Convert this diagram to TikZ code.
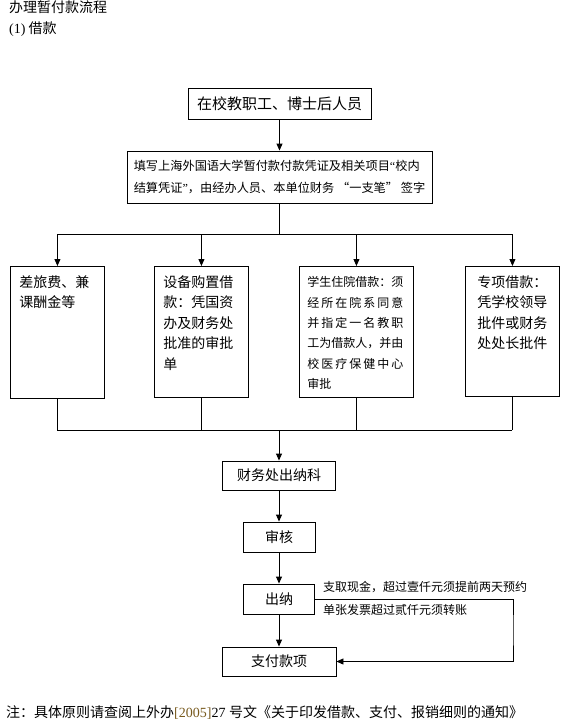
\documentclass[tikz,border=0pt]{standalone}
\usepackage{fontspec}
\setmainfont{Noto Sans CJK SC}
\newfontfamily\tnr{Liberation Serif}
\usetikzlibrary{arrows.meta}
\definecolor{refno}{RGB}{120,90,30}
\tikzset{
  box/.style={draw, line width=0.9pt, inner sep=0pt},
  arr/.style={line width=0.9pt, -{Triangle[length=7pt,width=6pt]}},
  conn/.style={line width=0.9pt},
  txt/.style={inner sep=0pt, anchor=west}
}
\newcommand\fs[2]{\fontsize{#1}{#2}\selectfont}

\begin{document}
\begin{tikzpicture}[x=1pt,y=-1pt]
    \useasboundingbox (0,0) rectangle (575,725);
    \node[txt, font=\fs{14}{16}] (title) at (9,7) {办理暂付款流程};
    \node[txt, font=\fs{14}{16}] (loan) at (9,29) {{\tnr (1)}\ 借款};

    \node[box, minimum width=183pt, minimum height=31pt, font=\fs{15}{17}] (staff) at (279.5,103.5) {在校教职工、博士后人员};
    \node[box, minimum width=305pt, minimum height=52pt, align=left, font=\fs{12.2}{22}] (voucher) at (279.5,177) {填写上海外国语大学暂付款付款凭证及相关项目{\tnr “}校内\\结算凭证{\tnr ”}，由经办人员、本单位财务 “一支笔” 签字};

    \node[box, anchor=north west, inner xsep=9pt, font=\fs{14}{20.5}] (travel) at (10,266) {\parbox[t][132pt][t]{76pt}{\raggedright\rule{0pt}{21pt}差旅费、兼\\课酬金等}};
    \node[box, anchor=north west, inner xsep=9pt, font=\fs{14}{20.5}] (equip) at (154,266) {\parbox[t][131pt][t]{76pt}{\raggedright\rule{0pt}{21pt}设备购置借\\款：凭国资\\办及财务处\\批准的审批\\单}};
    \node[box, anchor=north west, inner xsep=8pt, font=\fs{12}{20.3}] (hospital) at (299,266) {\parbox[t][131pt][t]{98pt}{\raggedright\rule{0pt}{20.5pt}\makebox[96pt][s]{学生住院借款：须}\\\makebox[96pt][s]{经 所 在 院 系 同 意}\\\makebox[96pt][s]{并 指 定 一 名 教 职}\\\makebox[96pt][s]{工为借款人，并由}\\\makebox[96pt][s]{校 医 疗 保 健 中 心}\\审批}};
    \node[box, anchor=north west, inner xsep=12pt, font=\fs{14}{20.5}] (special) at (465,266) {\parbox[t][130pt][t]{70pt}{\raggedright\rule{0pt}{21pt}专项借款：\\凭学校领导\\批件或财务\\处处长批件}};

    \node[box, minimum width=113pt, minimum height=29pt, font=\fs{14}{16}] (cashier) at (279,475.5) {财务处出纳科};
    \node[box, minimum width=72pt, minimum height=30pt, font=\fs{14}{16}] (audit) at (279,537) {审核};
    \node[box, minimum width=71pt, minimum height=30pt, font=\fs{14}{16}] (teller) at (279,599) {出纳};
    \node[box, minimum width=114pt, minimum height=29pt, font=\fs{14}{16}] (pay) at (279,661.5) {支付款项};

    \node[txt, font=\fs{12}{14}] (cashnote) at (323,587) {支取现金，超过壹仟元须提前两天预约};
    \node[txt, font=\fs{12}{14}] (billnote) at (323,610) {单张发票超过贰仟元须转账};

    \node[txt, font=\fs{14}{16}] (note) at (6,712) {注：具体原则请查阅上外办{\tnr\color{refno}[2005]}{\tnr 27 }号文《关于印发借款、支付、报销细则的通知》};

    \coordinate (topbus) at (0,234);
    \coordinate (lowbus) at (0,430);
    \coordinate (corner) at (513,630);

    \draw[arr] (staff) -- (voucher);
    \draw[conn] (voucher) -- (voucher |- topbus);
    \draw[conn] (travel |- topbus) -- (special |- topbus);
    \foreach \bx in {travel,equip,hospital,special}{
        \draw[arr] (\bx |- topbus) -- (\bx.north);
        \draw[conn] (\bx.south) -- (\bx |- lowbus);
    }
    \draw[conn] (travel |- lowbus) -- (special |- lowbus);
    \draw[arr] (cashier |- lowbus) -- (cashier);
    \draw[arr] (cashier) -- (audit);
    \draw[arr] (audit) -- (teller);
    \draw[arr] (teller) -- (pay);
    \draw[arr] (teller.east) -| (corner) |- (pay.east);
\end{tikzpicture}
\end{document}
